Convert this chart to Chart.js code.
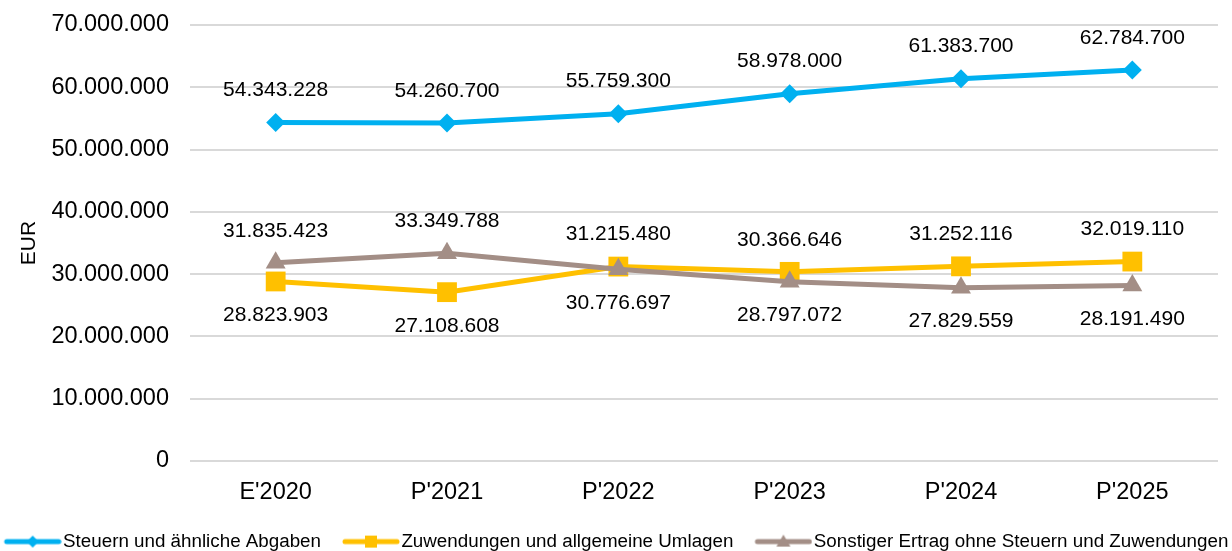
<!DOCTYPE html>
<html>
<head>
<meta charset="utf-8">
<script src="https://cdn.jsdelivr.net/npm/chart.js@4/dist/chart.umd.min.js"></script>
<style>
  html, body { margin: 0; padding: 0; background: #fff; }
  #wrap { width: 1232px; height: 551px; }
</style>
</head>
<body>
<div id="wrap"><canvas id="line"></canvas></div>
<script>
const years = ["E'2020", "P'2021", "P'2022", "P'2023", "P'2024", "P'2025"];
const steuern = [54343228, 54260700, 55759300, 58978000, 61383700, 62784700];
const zuwendungen = [28823903, 27108608, 31215480, 30366646, 31252116, 32019110];
const sonstiger = [31835423, 33349788, 30776697, 28797072, 27829559, 28191490];
const yTicks = [0, 10000000, 20000000, 30000000, 40000000, 50000000, 60000000, 70000000];

const FONT = "'Liberation Sans', Arial, sans-serif";
const blue = "#00B0F0";
const yellow = "#FFC000";
const taupe = "#A38E86";

function fmt(v) {
  return String(Math.round(v)).replace(/\B(?=(\d{3})+(?!\d))/g, ".");
}

// legend sample: line with the marker in the middle (drawn in the right part of the image)
function legendIcon(color, shape) {
  const c = document.createElement("canvas");
  c.width = 78; c.height = 18;
  const g = c.getContext("2d");
  const mx = 49, my = 9;
  g.strokeStyle = color; g.fillStyle = color;
  g.lineWidth = 5; g.lineCap = "round";
  g.beginPath(); g.moveTo(23, my); g.lineTo(75, my); g.stroke();
  g.beginPath();
  if (shape === "diamond") {
    g.moveTo(mx, my - 6); g.lineTo(mx + 6, my); g.lineTo(mx, my + 6); g.lineTo(mx - 6, my);
  } else if (shape === "square") {
    g.rect(mx - 6, my - 6, 12, 12);
  } else {
    g.moveTo(mx, my - 7); g.lineTo(mx + 7, my + 5); g.lineTo(mx - 7, my + 5);
  }
  g.closePath(); g.fill();
  return c;
}

// value labels, above the point when it is the higher one at that category
const valueLabels = {
  id: "valueLabels",
  afterDatasetsDraw(chart) {
    const ctx = chart.ctx;
    ctx.save();
    ctx.font = "21px " + FONT;
    ctx.fillStyle = "#000";
    ctx.textAlign = "center";
    ctx.textBaseline = "middle";
    const ds = chart.data.datasets;
    ds.forEach((d, i) => {
      const meta = chart.getDatasetMeta(i);
      meta.data.forEach((pt, j) => {
        let above = true;
        if (i === 1) above = d.data[j] > ds[2].data[j];
        if (i === 2) above = d.data[j] > ds[1].data[j];
        const y = above ? pt.y - 32 : pt.y + 34;
        ctx.fillText(fmt(d.data[j]), pt.x, y);
      });
    });
    ctx.restore();
  }
};

const line = document.getElementById("line");
var myChart = new Chart(line, {
  type: "line",
  data: {
    labels: years,
    datasets: [
      {
        label: "Steuern und ähnliche Abgaben",
        data: steuern,
        borderColor: blue,
        backgroundColor: blue,
        borderWidth: 5,
        pointStyle: "rectRot",
        pointRadius: 9.5,
        pointBorderWidth: 0,
        order: 3,
        icon: legendIcon(blue, "diamond"),
      },
      {
        label: "Zuwendungen und allgemeine Umlagen",
        data: zuwendungen,
        borderColor: yellow,
        backgroundColor: yellow,
        borderWidth: 5,
        pointStyle: "rect",
        pointRadius: 14,
        pointBorderWidth: 0,
        order: 2,
        icon: legendIcon(yellow, "square"),
      },
      {
        label: "Sonstiger Ertrag ohne Steuern und Zuwendungen",
        data: sonstiger,
        borderColor: taupe,
        backgroundColor: taupe,
        borderWidth: 5,
        pointStyle: "triangle",
        pointRadius: 11.5,
        pointBorderWidth: 0,
        order: 1,
        icon: legendIcon(taupe, "triangle"),
      },
    ],
  },
  options: {
    responsive: true,
    maintainAspectRatio: false,
    animation: false,
    // negative sides give the one-row legend a bit more room than the canvas
    layout: { padding: { top: 25, right: -14, left: -26, bottom: -10 } },
    scales: {
      x: {
        offset: true,
        grid: { display: false, drawTicks: false },
        border: { display: false },
        ticks: { color: "#000", font: { family: FONT, size: 23.5 }, padding: 17 },
      },
      y: {
        min: 0,
        max: 70000000,
        afterBuildTicks: (scale) => { scale.ticks = yTicks.map((v) => ({ value: v })); },
        afterFit: (scale) => { scale.width = 216; },
        grid: { color: "#D9D9D9", lineWidth: 2, tickLength: 14, tickColor: "rgba(0,0,0,0)" },
        border: { display: false },
        ticks: {
          color: "#000",
          font: { family: FONT, size: 23.5 },
          padding: 7,
          callback: (v) => fmt(v),
        },
        title: {
          display: true,
          text: "EUR",
          color: "#000",
          font: { family: FONT, size: 21 },
          padding: { top: 43, bottom: 0 },
        },
      },
      // empty strip on the right so the plot ends before the canvas edge
      yRight: {
        position: "right",
        grid: { display: false, drawTicks: false },
        border: { display: false },
        ticks: { display: false },
        afterFit: (scale) => { scale.width = 28; },
      },
    },
    plugins: {
      tooltip: { enabled: false },
      legend: {
        position: "bottom",
        labels: {
          usePointStyle: true,
          pointStyleWidth: 62,
          color: "#000",
          font: { family: FONT, size: 18.8 },
          padding: 9,
          sort: (a, b) => a.datasetIndex - b.datasetIndex,
          generateLabels: (chart) => chart.data.datasets.map((d, i) => ({
            text: d.label,
            datasetIndex: i,
            pointStyle: d.icon,
            fillStyle: d.borderColor,
            strokeStyle: d.borderColor,
            fontColor: "#000",
            lineWidth: 0,
            hidden: false,
          })),
        },
      },
    },
  },
  plugins: [valueLabels],
});
</script>
</body>
</html>
